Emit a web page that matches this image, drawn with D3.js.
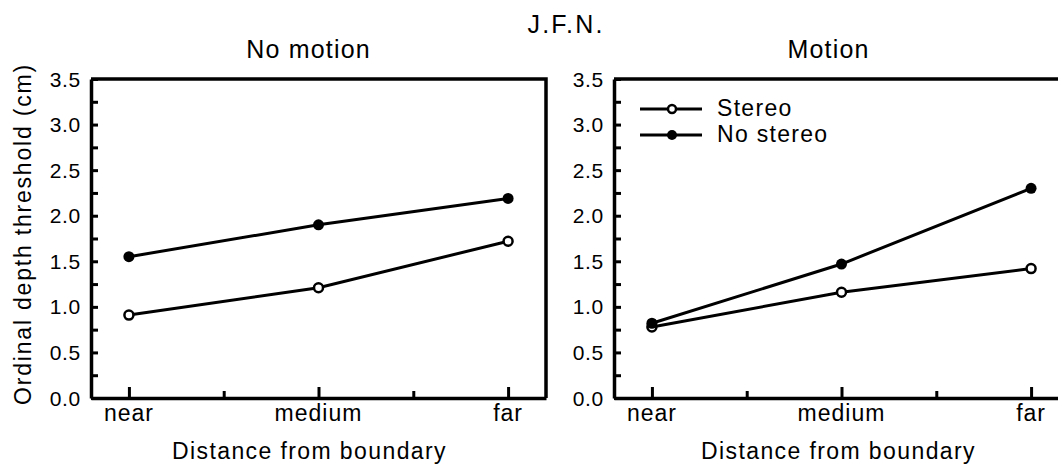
<!DOCTYPE html>
<html>
<head>
<meta charset="utf-8">
<script src="https://cdn.jsdelivr.net/npm/d3@7"></script>
<style>
	body { margin: 0; background: #fff; }
	text { font-family: "Liberation Sans", Arial, Helvetica, sans-serif; fill: #000; }
</style>
</head>
<body>
<script>

// data
var categories = ["near", "medium", "far"]
var panelTitles = ["No motion", "Motion"]
var noMotionStereo = [0.91, 1.21, 1.72]
var noMotionNoStereo = [1.55, 1.90, 2.19]
var motionStereo = [0.78, 1.16, 1.42]
var motionNoStereo = [0.82, 1.47, 2.30]
var yTickLabels = ["0.0", "0.5", "1.0", "1.5", "2.0", "2.5", "3.0", "3.5"]
var seriesNames = ["Stereo", "No stereo"]

// width & height
var w = 1058
var h = 464

var svg = d3.select("body")
			.append("svg")
			.attr("width", w)
			.attr("height", h);

// shared scales
var panelW = 455
var plotTop = 79
var plotBottom = 398

var yScale = d3.scaleLinear()
				.domain([0, 3.5])
				.range([plotBottom, plotTop])

var xScale = d3.scaleLinear()
				.domain([-0.2, 2.2])
				.range([0, panelW])

// title
svg.append("text")
	.attr("x", 566)
	.attr("y", 33)
	.attr("text-anchor", "middle")
	.style("font-size", "25px")
	.style("letter-spacing", "2.2px")
	.text("J.F.N.")

// y label
svg.append("text")
	.attr("transform", "translate(31," + 234 + ") rotate(-90)")
	.attr("text-anchor", "middle")
	.style("font-size", "23px")
	.style("letter-spacing", "1.8px")
	.text("Ordinal depth threshold (cm)")

drawPanel(91, panelTitles[0], [noMotionStereo, noMotionNoStereo], false, -9, 0)
drawPanel(614, panelTitles[1], [motionStereo, motionNoStereo], true, -3, -3)

function drawPanel(x0, title, series, legend, labelShift, titleShift) {
	var g = svg.append("g")
				.attr("transform", "translate(" + x0 + ",0)")

	// panel title
	g.append("text")
		.attr("x", xScale(1) - 10 + titleShift)
		.attr("y", 58)
		.attr("text-anchor", "middle")
		.style("font-size", "25px")
		.style("letter-spacing", "1.2px")
		.text(title)

	// frame (top + right)
	g.append("path")
		.attr("d", "M0," + plotTop + "H" + panelW + "V" + plotBottom)
		.attr("fill", "none")
		.attr("stroke", "#000")
		.attr("stroke-width", 3.5)

	// y axis with inward ticks
	var yAxis = d3.axisRight(yScale)
					.tickValues(d3.range(0, 3.51, 0.25))
					.tickSize(7)
					.tickSizeOuter(0)
					.tickFormat("")
	var ya = g.append("g").call(yAxis)
	ya.select(".domain").attr("stroke-width", 3.5)
	ya.selectAll(".tick line").attr("stroke-width", 3)

	g.selectAll(".ylab")
		.data(yTickLabels)
		.enter()
		.append("text")
		.attr("class", "ylab")
		.attr("x", -10)
		.attr("y", function(d){ return yScale(+d) + 7.5; })
		.attr("text-anchor", "end")
		.style("font-size", "21px")
		.style("letter-spacing", "0.7px")
		.text(function(d){ return d; })

	// x axis with inward ticks
	var xa = g.append("g")
				.attr("transform", "translate(0," + plotBottom + ")")
				.call(d3.axisTop(xScale).tickValues([0, 1, 2]).tickSize(11).tickSizeOuter(0).tickFormat(""))
	xa.select(".domain").attr("stroke-width", 3.5)
	xa.selectAll(".tick line").attr("stroke-width", 3)

	var xm = g.append("g")
				.attr("transform", "translate(0," + plotBottom + ")")
				.call(d3.axisTop(xScale).tickValues([0.5, 1.5]).tickSize(7).tickFormat(""))
	xm.select(".domain").remove()
	xm.selectAll(".tick line").attr("stroke-width", 3)

	g.selectAll(".xlab")
		.data(categories)
		.enter()
		.append("text")
		.attr("class", "xlab")
		.attr("x", function(d, i){ return xScale(i); })
		.attr("y", 421)
		.attr("text-anchor", "middle")
		.style("font-size", "23px")
		.style("letter-spacing", "1px")
		.text(function(d){ return d; })

	// x label
	g.append("text")
		.attr("x", xScale(1) + labelShift)
		.attr("y", 459)
		.attr("text-anchor", "middle")
		.style("font-size", "23px")
		.style("letter-spacing", "1.4px")
		.text("Distance from boundary")

	var line = d3.line()
				.x(function(d, i){ return xScale(i); })
				.y(function(d){ return yScale(d); })

	series.forEach(function(s, k) {
		g.append("path")
			.datum(s)
			.attr("d", line)
			.attr("fill", "none")
			.attr("stroke", "#000")
			.attr("stroke-width", 3)

		g.selectAll(".pt" + k)
			.data(s)
			.enter()
			.append("circle")
			.attr("cx", function(d, i){ return xScale(i); })
			.attr("cy", function(d){ return yScale(d); })
			.attr("r", k === 0 ? 4.5 : 5.5)
			.attr("fill", k === 0 ? "#fff" : "#000")
			.attr("stroke", "#000")
			.attr("stroke-width", k === 0 ? 2.5 : 0)
	})

	if (legend) {
		seriesNames.forEach(function(name, k) {
			var ly = k === 0 ? 109 : 135
			g.append("line")
				.attr("x1", 26).attr("x2", 88)
				.attr("y1", ly).attr("y2", ly)
				.attr("stroke", "#000")
				.attr("stroke-width", 3)
			g.append("circle")
				.attr("cx", 58)
				.attr("cy", ly)
				.attr("r", k === 0 ? 4 : 5)
				.attr("fill", k === 0 ? "#fff" : "#000")
				.attr("stroke", "#000")
				.attr("stroke-width", k === 0 ? 2.5 : 0)
			g.append("text")
				.attr("x", 103)
				.attr("y", ly + 7)
				.style("font-size", "23px")
				.style("letter-spacing", "1.3px")
				.text(name)
		})
	}
}
</script>
</body>
</html>
